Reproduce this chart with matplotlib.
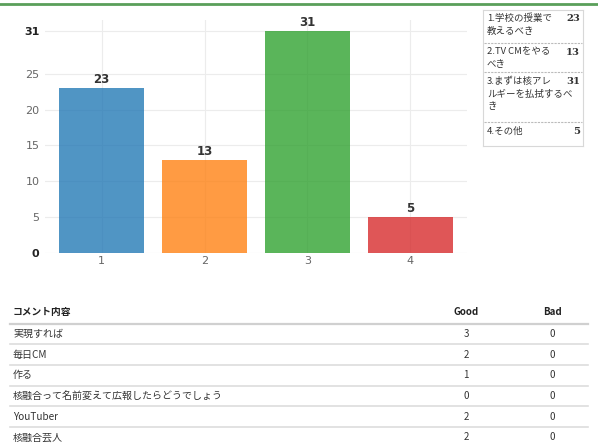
import matplotlib.pyplot as plt
from matplotlib.lines import Line2D

plt.rcParams['font.family'] = ['Noto Sans CJK JP', 'DejaVu Sans']

# data
categories = [1, 2, 3, 4]
votes = [23, 13, 31, 5]
colors = ['#1f77b4', '#ff7f0e', '#2ca02c', '#d62728']
legend_labels = [['1.学校の授業で', '教えるべき'],
                 ['2.TV CMをやる', 'べき'],
                 ['3.まずは核アレ', 'ルギーを払拭するべ', 'き'],
                 ['4.その他']]
yticks = [0, 5, 10, 15, 20, 25, 31]

comments = ['実現すれば', '毎日CM', '作る', '核融合って名前変えて広報したらどうでしょう',
            'YouTuber', '核融合芸人']
good = [3, 2, 1, 0, 2, 2]
bad = [0, 0, 0, 0, 0, 0]

W, H = 598, 446
fig = plt.figure(figsize=(W / 100, H / 100), dpi=100)


def px(x0, y0, x1, y1):
    return [x0 / W, 1 - y1 / H, (x1 - x0) / W, (y1 - y0) / H]


# green line on top
fig.add_artist(Line2D([0, 1], [1 - 3.5 / H, 1 - 3.5 / H], color='#5a9f5a', lw=2))

# bar chart
ax = fig.add_axes(px(45, 20, 467, 253))
ax.bar(categories, votes, width=0.82, color=colors, alpha=0.78, zorder=2)
for c, v in zip(categories, votes):
    ax.text(c, v + 0.3, str(v), ha='center', va='bottom', fontsize=8.5,
            fontweight='bold', color='#333333', family='DejaVu Sans')
ax.set_xlim(0.45, 4.55)
ax.set_ylim(0, 32.5)
ax.set_yticks(yticks)
ax.set_xticks(categories)
ax.grid(True, color='#ececec', lw=0.8, zorder=0)
for s in ax.spines.values():
    s.set_visible(False)
ax.tick_params(axis='y', length=0, pad=4, labelsize=8, colors='#666666')
ax.tick_params(axis='x', length=0, pad=2, labelsize=8, colors='#666666')
for lab in ax.get_yticklabels():
    lab.set_family('DejaVu Sans')
    if lab.get_text() in ('0', '31'):
        lab.set_fontweight('bold')
        lab.set_color('#222222')
for lab in ax.get_xticklabels():
    lab.set_family('DejaVu Sans')

# legend box
lg = fig.add_axes(px(483, 10, 583, 146))
lg.set_xlim(483, 583)
lg.set_ylim(146, 10)
lg.set_xticks([])
lg.set_yticks([])
for s in lg.spines.values():
    s.set_color('#d8d8d8')
    s.set_linewidth(0.8)
first_line = [18, 52, 81, 131]
seps = [43, 72, 122]
for i, (lines, v) in enumerate(zip(legend_labels, votes)):
    for j, line in enumerate(lines):
        lg.text(487, first_line[i] + 13 * j, line, fontsize=6.8, va='center',
                ha='left', color='#333333')
    lg.text(580, first_line[i], str(v), fontsize=7.2, va='center', ha='right',
            fontweight='bold', color='#333333', family='DejaVu Serif')
for y in seps:
    lg.plot([484, 582], [y, y], color='#bbbbbb', lw=0.8, ls=(0, (2, 1)))

# comment table
tb = fig.add_axes(px(0, 295, W, H))
tb.set_xlim(0, W)
tb.set_ylim(H, 295)
tb.axis('off')
tb.text(13, 312, 'コメント内容', fontsize=7, fontweight='bold', va='center', color='#222222')
tb.text(466, 312, 'Good', fontsize=7, fontweight='bold', va='center', ha='center', color='#222222')
tb.text(552, 312, 'Bad', fontsize=7, fontweight='bold', va='center', ha='center', color='#222222')
tb.plot([10, 588], [323.5, 323.5], color='#d0d0d0', lw=1.6)
for i, (cm, g, b) in enumerate(zip(comments, good, bad)):
    y = 334 + i * 20.7
    tb.text(13, y, cm, fontsize=7.2, va='center', color='#333333')
    tb.text(466, y, str(g), fontsize=7, va='center', ha='center', color='#333333')
    tb.text(552, y, str(b), fontsize=7, va='center', ha='center', color='#333333')
    if i < len(comments) - 1:
        tb.plot([10, 588], [y + 10.3] * 2, color='#dddddd', lw=1.2)

fig.savefig('out.png', dpi=100)
